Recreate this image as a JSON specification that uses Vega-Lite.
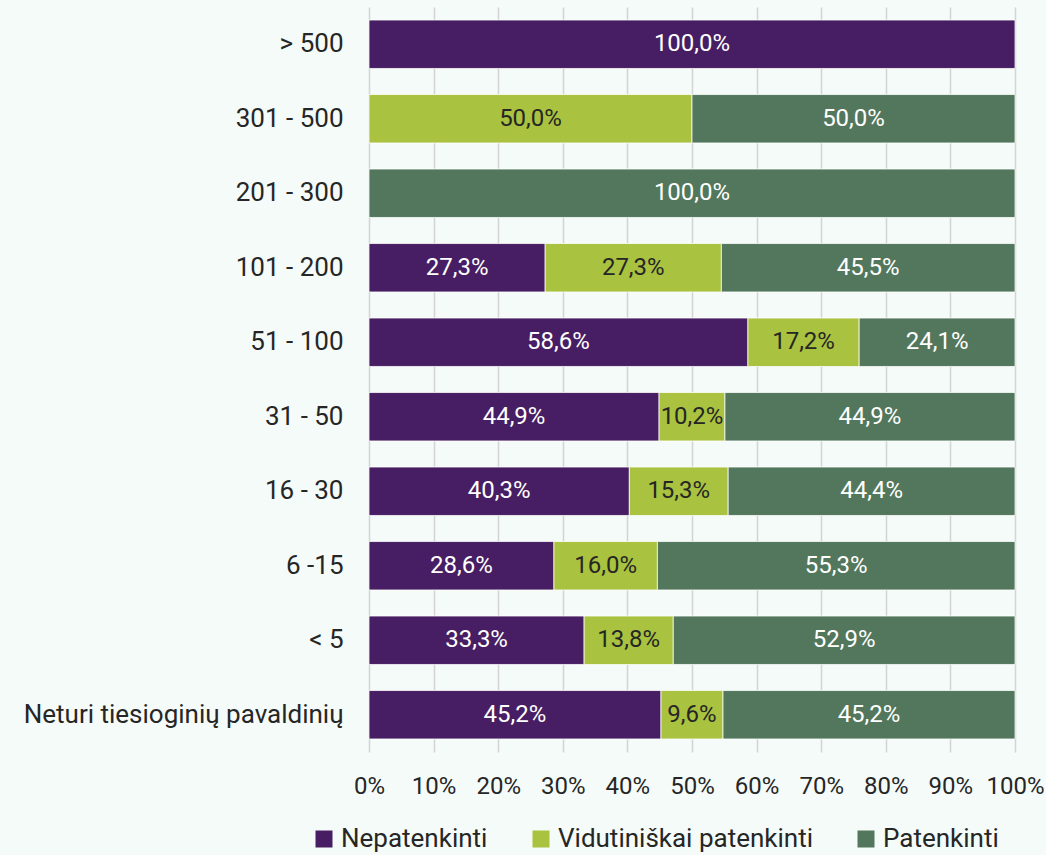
{
  "$schema": "https://vega.github.io/schema/vega-lite/v6.json",
  "autosize": {"type": "none"},
  "width": 646,
  "height": 745,
  "padding": {"left": 369, "top": 7, "right": 31, "bottom": 103},
  "background": "#F5FBF8",
  "config": {
    "view": {"stroke": null},
    "font": "Roboto",
    "axis": {"labelFont": "Roboto", "labelColor": "#262626"},
    "legend": {"labelFont": "Roboto", "labelColor": "#262626"}
  },
  "data": {
    "values": [
      {"g": "> 500", "o": 0, "c": "Nepatenkinti", "k": 0, "v": 100.0},
      {"g": "301 - 500", "o": 1, "c": "Vidutiniškai patenkinti", "k": 1, "v": 50.0},
      {"g": "301 - 500", "o": 1, "c": "Patenkinti", "k": 2, "v": 50.0},
      {"g": "201 - 300", "o": 2, "c": "Patenkinti", "k": 2, "v": 100.0},
      {"g": "101 - 200", "o": 3, "c": "Nepatenkinti", "k": 0, "v": 27.3},
      {"g": "101 - 200", "o": 3, "c": "Vidutiniškai patenkinti", "k": 1, "v": 27.3},
      {"g": "101 - 200", "o": 3, "c": "Patenkinti", "k": 2, "v": 45.5},
      {"g": "51 - 100", "o": 4, "c": "Nepatenkinti", "k": 0, "v": 58.6},
      {"g": "51 - 100", "o": 4, "c": "Vidutiniškai patenkinti", "k": 1, "v": 17.2},
      {"g": "51 - 100", "o": 4, "c": "Patenkinti", "k": 2, "v": 24.1},
      {"g": "31 - 50", "o": 5, "c": "Nepatenkinti", "k": 0, "v": 44.9},
      {"g": "31 - 50", "o": 5, "c": "Vidutiniškai patenkinti", "k": 1, "v": 10.2},
      {"g": "31 - 50", "o": 5, "c": "Patenkinti", "k": 2, "v": 44.9},
      {"g": "16 - 30", "o": 6, "c": "Nepatenkinti", "k": 0, "v": 40.3},
      {"g": "16 - 30", "o": 6, "c": "Vidutiniškai patenkinti", "k": 1, "v": 15.3},
      {"g": "16 - 30", "o": 6, "c": "Patenkinti", "k": 2, "v": 44.4},
      {"g": "6 -15", "o": 7, "c": "Nepatenkinti", "k": 0, "v": 28.6},
      {"g": "6 -15", "o": 7, "c": "Vidutiniškai patenkinti", "k": 1, "v": 16.0},
      {"g": "6 -15", "o": 7, "c": "Patenkinti", "k": 2, "v": 55.3},
      {"g": "< 5", "o": 8, "c": "Nepatenkinti", "k": 0, "v": 33.3},
      {"g": "< 5", "o": 8, "c": "Vidutiniškai patenkinti", "k": 1, "v": 13.8},
      {"g": "< 5", "o": 8, "c": "Patenkinti", "k": 2, "v": 52.9},
      {"g": "Neturi tiesioginių pavaldinių", "o": 9, "c": "Nepatenkinti", "k": 0, "v": 45.2},
      {"g": "Neturi tiesioginių pavaldinių", "o": 9, "c": "Vidutiniškai patenkinti", "k": 1, "v": 9.6},
      {"g": "Neturi tiesioginių pavaldinių", "o": 9, "c": "Patenkinti", "k": 2, "v": 45.2}
    ]
  },
  "transform": [
    {"stack": "v", "groupby": ["g"], "sort": [{"field": "k", "order": "ascending"}], "offset": "normalize", "as": ["x0", "x1"]},
    {"calculate": "(datum.x0 + datum.x1) / 2", "as": "xm"},
    {"calculate": "replace(format(datum.v, '.1f'), '.', ',') + '%'", "as": "lbl"}
  ],
  "encoding": {
    "y": {
      "field": "g", "type": "nominal",
      "sort": {"field": "o", "order": "ascending"},
      "scale": {"paddingInner": 0.35, "paddingOuter": 0.175},
      "axis": {"title": null, "ticks": false, "domain": false, "labelFontSize": 26, "labelPadding": 26, "labelLimit": 400}
    }
  },
  "layer": [
    {
      "mark": {"type": "bar", "stroke": "#ffffff", "strokeWidth": 0.75},
      "encoding": {
        "x": {
          "field": "x0", "type": "quantitative",
          "scale": {"domain": [0, 1], "nice": false},
          "axis": {
            "title": null, "format": ".0%", "values": [0, 0.1, 0.2, 0.3, 0.4, 0.5, 0.6, 0.7, 0.8, 0.9, 1],
            "grid": true, "gridColor": "#D4D4D4", "gridWidth": 1.5,
            "domain": false, "ticks": false, "labelFontSize": 24, "labelPadding": 22, "labelFlush": false, "labelOverlap": false
          }
        },
        "x2": {"field": "x1"},
        "color": {
          "field": "c", "type": "nominal",
          "scale": {"domain": ["Nepatenkinti", "Vidutiniškai patenkinti", "Patenkinti"], "range": ["#471E63", "#A9C23F", "#52775C"]},
          "legend": {
            "title": null, "orient": "none", "direction": "horizontal", "legendX": -58, "legendY": 819,
            "symbolType": "square", "symbolSize": 289, "symbolStrokeWidth": 0, "labelFontSize": 26, "labelLimit": 500, "columnPadding": 40, "labelOffset": 4
          }
        }
      }
    },
    {
      "mark": {"type": "text", "fontSize": 24, "font": "Roboto"},
      "encoding": {
        "x": {"field": "xm", "type": "quantitative"},
        "text": {"field": "lbl"},
        "color": {
          "condition": {"test": "datum.k === 1", "value": "#262626"},
          "value": "#ffffff"
        }
      }
    }
  ]
}
